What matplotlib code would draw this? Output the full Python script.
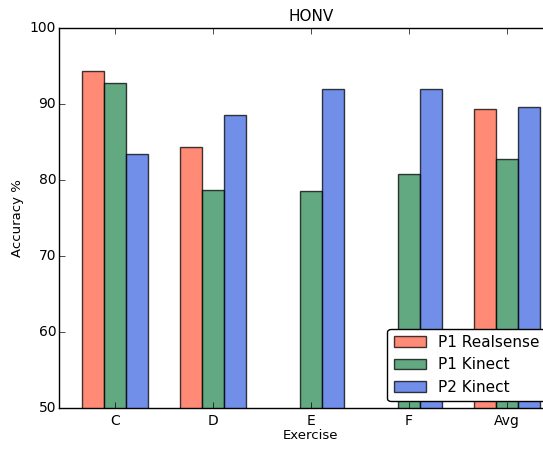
import numpy as np
import matplotlib.pyplot as plt

plt.style.use('classic')

# Data
exercises = ['C', 'D', 'E', 'F', 'Avg']
p1_realsense = [94.3, 84.4, np.nan, np.nan, 89.3]
p1_kinect = [92.8, 78.7, 78.5, 80.8, 82.7]
p2_kinect = [83.4, 88.6, 92.0, 92.0, 89.6]
series_names = ['P1 Realsense', 'P1 Kinect', 'P2 Kinect']

colors = ['tomato', 'seagreen', 'royalblue']
width = 0.225
index = np.arange(len(exercises))

fig = plt.figure(figsize=(5.43, 4.49), dpi=100, facecolor='white')
ax = fig.add_axes([0.1087, 0.0913, 0.928, 0.8463])

for k, (vals, name) in enumerate(zip([p1_realsense, p1_kinect, p2_kinect], series_names)):
    ax.bar(index + (k - 1) * width, vals, width, bottom=0, color=colors[k],
           alpha=0.75, edgecolor='black', linewidth=1, label=name, align='center')

ax.set_ylim(50, 100)
ax.set_xlim(-0.571, len(exercises) - 1 + 0.571)
ax.set_xticks(index)
ax.set_xticklabels(exercises)
ax.set_yticks([50, 60, 70, 80, 90, 100])
ax.tick_params(labelsize=10)
ax.tick_params(axis='y', pad=2)
ax.set_xlabel('Exercise', fontsize=9.5, labelpad=1)
ax.set_ylabel('Accuracy %', fontsize=9.5, labelpad=4)
ax.set_title('HONV', fontsize=11)
ax.legend(loc='lower right', fontsize=11, fancybox=True, framealpha=1,
          handlelength=2.1, bbox_to_anchor=(545.5 / 543, 48 / 449),
          bbox_transform=fig.transFigure, borderaxespad=0)

plt.savefig('out.png', dpi=100, facecolor='white')
